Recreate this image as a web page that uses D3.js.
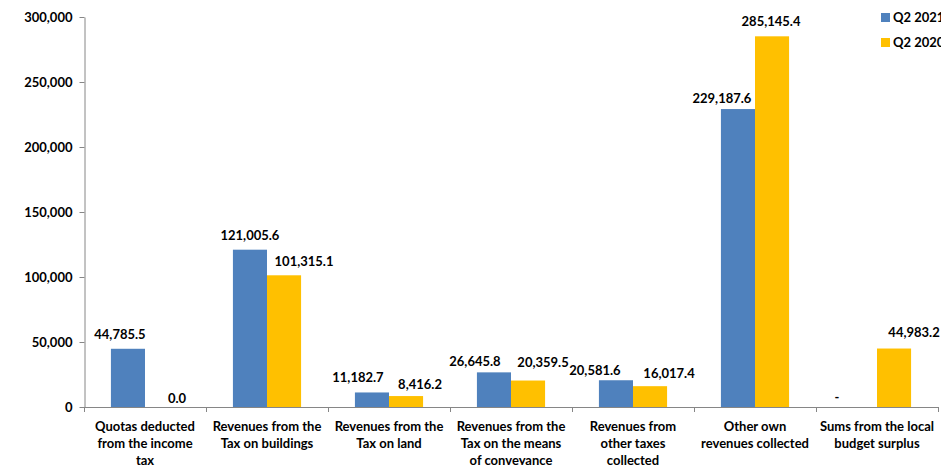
<!DOCTYPE html>
<html>
<head>
<meta charset="utf-8">
<script src="https://cdn.jsdelivr.net/npm/d3@7"></script>
<style>
  html, body { margin: 0; padding: 0; background: #fff; }
  svg { display: block; font-family: Lato, "Open Sans", sans-serif; font-weight: bold; }
</style>
</head>
<body>
<svg id="chart" width="941" height="465"></svg>
<script>
// Local budget revenues, Q2 2021 vs Q2 2020
const categories = [
  ["Quotas deducted", "from the income", "tax"],
  ["Revenues from the", "Tax on buildings"],
  ["Revenues from the", "Tax on land"],
  ["Revenues from the", "Tax on the means", "of conveyance"],
  ["Revenues from", "other taxes", "collected"],
  ["Other own", "revenues collected"],
  ["Sums from the local", "budget surplus"]
];
const q2_2021 = [44785.5, 121005.6, 11182.7, 26645.8, 20581.6, 229187.6, null];
const q2_2020 = [0.0, 101315.1, 8416.2, 20359.5, 16017.4, 285145.4, 44983.2];
const seriesNames = ["Q2 2021", "Q2 2020"];
const yTicks = [0, 50000, 100000, 150000, 200000, 250000, 300000];

// Hand-placed value-label nudges (dx, dy from bar centre / bar top), per series
const labelNudge = [
  [[-8, -10], [0, -10], [-14, -10], [-19, -6], [-21, -5], [-16, -6], [-23, -5]],
  [[15, -4], [20, -9], [14, -7], [15, -14], [19, -8], [-1, -10], [20, -12]]
];

const colors = ["#4F81BD", "#FFC000"];
const svg = d3.select("#chart");
const plotL = 84, plotR = 938, plotT = 17, plotB = 407;

const x = d3.scaleBand().domain(d3.range(categories.length)).range([plotL, plotR]).paddingInner(0).paddingOuter(0);
const inner = d3.scaleBand().domain([0, 1]).range([0, x.bandwidth()]).paddingOuter(0.79).paddingInner(0);
const y = d3.scaleLinear().domain([0, 300000]).range([plotB, plotT]);

const fmt = d3.format(",.1f");
const tickFmt = d3.format(",");

// y axis
const yAxis = svg.append("g").attr("transform", `translate(${plotL + 0.5},0)`)
  .call(d3.axisLeft(y).tickValues(yTicks).tickFormat(tickFmt).tickSize(5).tickPadding(7).tickSizeOuter(0));
yAxis.select(".domain").attr("stroke", "#868686");
yAxis.selectAll(".tick line").attr("stroke", "#868686");
yAxis.selectAll(".tick text").attr("font-size", 13).attr("fill", "#000")
  .attr("font-family", "Lato, sans-serif").attr("font-weight", "bold");

// x axis with ticks at category boundaries
const xg = svg.append("g");
xg.append("line").attr("x1", plotL).attr("x2", plotR).attr("y1", plotB + 0.5).attr("y2", plotB + 0.5).attr("stroke", "#868686");
xg.selectAll("line.tk").data(d3.range(categories.length + 1)).join("line")
  .attr("class", "tk")
  .attr("x1", i => Math.round(plotL + i * x.step()) + 0.5)
  .attr("x2", i => Math.round(plotL + i * x.step()) + 0.5)
  .attr("y1", plotB).attr("y2", plotB + 5).attr("stroke", "#868686");

const series = [q2_2021, q2_2020];
series.forEach((vals, s) => {
  const g = svg.append("g");
  vals.forEach((v, i) => {
    const bx = x(i) + inner(s);
    const [dx, dy] = labelNudge[s][i];
    if (v !== null) {
      g.append("rect")
        .attr("x", bx).attr("width", inner.bandwidth())
        .attr("y", y(v)).attr("height", y(0) - y(v))
        .attr("fill", colors[s]);
    }
    g.append("text")
      .attr("x", bx + inner.bandwidth() / 2 + dx)
      .attr("y", y(v === null ? 0 : v) + dy)
      .attr("text-anchor", "middle")
      .attr("font-size", 13)
      .text(v !== null ? fmt(v) : "-");
  });
});

// category labels
categories.forEach((lines, i) => {
  const cx = x(i) + x.bandwidth() / 2;
  const t = svg.append("text")
    .attr("x", cx)
    .attr("y", 431)
    .attr("text-anchor", "middle")
    .attr("font-size", 13);
  lines.forEach((ln, k) => {
    t.append("tspan").attr("x", cx).attr("dy", k === 0 ? 0 : 17).text(ln);
  });
});

// legend
const lg = svg.append("g").attr("transform", "translate(881,13)");
seriesNames.forEach((n, s) => {
  lg.append("rect").attr("x", 0).attr("y", s * 25).attr("width", 9).attr("height", 9).attr("fill", colors[s]);
  lg.append("text").attr("x", 12).attr("y", s * 25 + 9).attr("font-size", 13).text(n);
});
</script>
</body>
</html>
